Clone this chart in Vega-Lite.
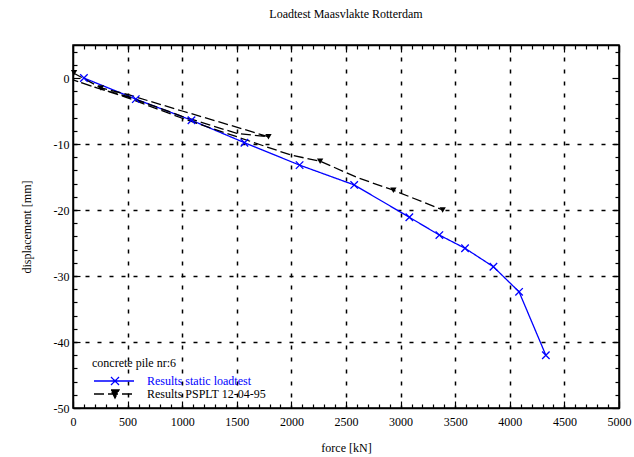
{
  "$schema": "https://vega.github.io/schema/vega-lite/v6.json",
  "width": 546,
  "height": 363,
  "autosize": "none",
  "padding": {"left": 73, "top": 45, "right": 15, "bottom": 49},
  "background": "white",
  "config": {
    "font": "Liberation Serif",
    "view": {"stroke": "black", "strokeWidth": 1.5}
  },
  "title": {
    "text": "Loadtest Maasvlakte Rotterdam",
    "font": "Liberation Serif",
    "fontSize": 12,
    "fontWeight": "normal",
    "color": "black",
    "anchor": "middle",
    "offset": 23
  },
  "datasets": {
    "curves": [
      {"series": "Results static loadtest", "step": 1, "force": 100, "disp": 0},
      {"series": "Results static loadtest", "step": 2, "force": 575, "disp": -3.2},
      {"series": "Results static loadtest", "step": 3, "force": 1085, "disp": -6.4},
      {"series": "Results static loadtest", "step": 4, "force": 1570, "disp": -9.8},
      {"series": "Results static loadtest", "step": 5, "force": 2075, "disp": -13.2},
      {"series": "Results static loadtest", "step": 6, "force": 2575, "disp": -16.2},
      {"series": "Results static loadtest", "step": 7, "force": 3080, "disp": -21.1},
      {"series": "Results static loadtest", "step": 8, "force": 3355, "disp": -23.8},
      {"series": "Results static loadtest", "step": 9, "force": 3590, "disp": -25.8},
      {"series": "Results static loadtest", "step": 10, "force": 3850, "disp": -28.6},
      {"series": "Results static loadtest", "step": 11, "force": 4085, "disp": -32.4},
      {"series": "Results static loadtest", "step": 12, "force": 4330, "disp": -42.0},
      {"series": "Results PSPLT 12-04-95", "step": 1, "force": 0, "disp": 0.8},
      {"series": "Results PSPLT 12-04-95", "step": 2, "force": 256, "disp": -1.5},
      {"series": "Results PSPLT 12-04-95", "step": 3, "force": 500, "disp": -2.5},
      {"series": "Results PSPLT 12-04-95", "step": 4, "force": 1000, "disp": -5.0},
      {"series": "Results PSPLT 12-04-95", "step": 5, "force": 1430, "disp": -7.1},
      {"series": "Results PSPLT 12-04-95", "step": 6, "force": 1790, "disp": -8.9},
      {"series": "Results PSPLT 12-04-95", "step": 7, "force": 1500, "disp": -8.4},
      {"series": "Results PSPLT 12-04-95", "step": 8, "force": 1000, "disp": -5.8},
      {"series": "Results PSPLT 12-04-95", "step": 9, "force": 500, "disp": -2.8},
      {"series": "Results PSPLT 12-04-95", "step": 10, "force": 256, "disp": -1.7},
      {"series": "Results PSPLT 12-04-95", "step": 11, "force": 0, "disp": -0.3},
      {"series": "Results PSPLT 12-04-95", "step": 12, "force": 500, "disp": -3.0},
      {"series": "Results PSPLT 12-04-95", "step": 13, "force": 1000, "disp": -6.1},
      {"series": "Results PSPLT 12-04-95", "step": 14, "force": 1500, "disp": -8.9},
      {"series": "Results PSPLT 12-04-95", "step": 15, "force": 2000, "disp": -11.7},
      {"series": "Results PSPLT 12-04-95", "step": 16, "force": 2263, "disp": -12.6},
      {"series": "Results PSPLT 12-04-95", "step": 17, "force": 2605, "disp": -15.1},
      {"series": "Results PSPLT 12-04-95", "step": 18, "force": 2934, "disp": -17.0},
      {"series": "Results PSPLT 12-04-95", "step": 19, "force": 3385, "disp": -20.0}
    ],
    "static_points": [
      {"force": 100, "disp": 0},
      {"force": 575, "disp": -3.2},
      {"force": 1085, "disp": -6.4},
      {"force": 1570, "disp": -9.8},
      {"force": 2075, "disp": -13.2},
      {"force": 2575, "disp": -16.2},
      {"force": 3080, "disp": -21.1},
      {"force": 3355, "disp": -23.8},
      {"force": 3590, "disp": -25.8},
      {"force": 3850, "disp": -28.6},
      {"force": 4085, "disp": -32.4},
      {"force": 4330, "disp": -42.0}
    ],
    "psplt_points": [
      {"force": 10, "disp": 0.8},
      {"force": 256, "disp": -1.5},
      {"force": 1790, "disp": -8.9},
      {"force": 2263, "disp": -12.6},
      {"force": 2934, "disp": -17.0},
      {"force": 3385, "disp": -20.0}
    ]
  },
  "layer": [
    {
      "mark": {"type": "rule", "color": "black", "strokeWidth": 1.5},
      "encoding": {
        "y": {"datum": 0, "type": "quantitative", "scale": {"domain": [-50, 5], "nice": false, "zero": false}, "axis": null}
      }
    },
    {
      "data": {"name": "curves"},
      "mark": {"type": "line", "strokeWidth": 1.3},
      "encoding": {
        "x": {
          "field": "force", "type": "quantitative",
          "scale": {"domain": [0, 5000], "nice": false, "zero": false},
          "axis": {
            "orient": "bottom",
            "values": [0,100,200,300,400,500,600,700,800,900,1000,1100,1200,1300,1400,1500,1600,1700,1800,1900,2000,2100,2200,2300,2400,2500,2600,2700,2800,2900,3000,3100,3200,3300,3400,3500,3600,3700,3800,3900,4000,4100,4200,4300,4400,4500,4600,4700,4800,4900,5000],
            "labelExpr": "datum.value % 500 === 0 ? '' + datum.value : ''",
            "labelOverlap": false,
            "labelFlush": false,
            "labelFontSize": 12,
            "labelColor": "black",
            "labelPadding": 15,
            "tickSize": {"condition": {"test": "datum.value % 500 === 0", "value": -7}, "value": -4},
            "tickColor": "black",
            "tickWidth": 1.2,
            "domainColor": "black",
            "domainWidth": 1.5,
            "grid": true,
            "gridColor": "black",
            "gridDash": [4, 8],
            "gridWidth": 1.5,
            "gridOpacity": {"condition": {"test": "datum.value % 500 === 0 && datum.value > 0 && datum.value < 5000", "value": 1}, "value": 0},
            "title": "force [kN]",
            "titleFontSize": 12,
            "titleFontWeight": "normal",
            "titleColor": "black",
            "titlePadding": 12
          }
        },
        "y": {
          "field": "disp", "type": "quantitative",
          "scale": {"domain": [-50, 5], "nice": false, "zero": false},
          "axis": {
            "orient": "left",
            "values": [-50,-48,-46,-44,-42,-40,-38,-36,-34,-32,-30,-28,-26,-24,-22,-20,-18,-16,-14,-12,-10,-8,-6,-4,-2,0,2,4],
            "labelExpr": "datum.value % 10 === 0 ? '' + datum.value : ''",
            "labelOverlap": false,
            "labelFlush": false,
            "labelFontSize": 12,
            "labelColor": "black",
            "labelPadding": 11,
            "tickSize": {"condition": {"test": "datum.value % 10 === 0", "value": -7}, "value": -4},
            "tickColor": "black",
            "tickWidth": 1.2,
            "domainColor": "black",
            "domainWidth": 1.5,
            "grid": true,
            "gridColor": "black",
            "gridDash": [4, 8],
            "gridWidth": 1.5,
            "gridOpacity": {"condition": {"test": "datum.value % 10 === 0 && datum.value > -50 && datum.value !== 0", "value": 1}, "value": 0},
            "title": "displacement [mm]",
            "titleFontSize": 12,
            "titleFontWeight": "normal",
            "titleColor": "black",
            "titlePadding": 20
          }
        },
        "color": {
          "field": "series", "type": "nominal",
          "scale": {"domain": ["Results static loadtest", "Results PSPLT 12-04-95"], "range": ["#0000ff", "#000000"]},
          "legend": {
            "orient": "none",
            "legendX": 19,
            "legendY": 313,
            "padding": 0,
            "title": "concrete pile nr:6",
            "titleFont": "Liberation Serif",
            "titleFontSize": 12,
            "titleFontWeight": "normal",
            "titleColor": "black",
            "titlePadding": 5,
            "labelFont": "Liberation Serif",
            "labelFontSize": 12,
            "labelColor": "black",
            "labelOffset": 43,
            "symbolSize": 64,
            "symbolStrokeWidth": 1.3,
            "rowPadding": -3,
            "encode": {
              "symbols": {"update": {
                "shape": {"signal": "datum.value === 'Results static loadtest' ? 'M-1,0L9,0M3.25,-1L5.25,1M3.25,1L5.25,-1' : 'M-1,0L9,0M3.25,-1L5.25,-1L4.25,1Z'"},
                "fill": {"signal": "datum.value === 'Results static loadtest' ? 'transparent' : 'black'"}
              }},
              "labels": {"update": {
                "fill": {"signal": "datum.value === 'Results static loadtest' ? '#0000ff' : 'black'"}
              }}
            }
          }
        },
        "strokeDash": {
          "field": "series", "type": "nominal",
          "scale": {"domain": ["Results static loadtest", "Results PSPLT 12-04-95"], "range": [[1, 0], [10, 4]]},
          "legend": null
        },
        "order": {"field": "step", "type": "quantitative"}
      }
    },
    {
      "data": {"name": "static_points"},
      "mark": {"type": "point", "shape": "M-1,-1L1,1M-1,1L1,-1", "size": 56, "filled": false, "stroke": "#0000ff", "strokeWidth": 1.3, "opacity": 1},
      "encoding": {
        "x": {
          "field": "force", "type": "quantitative",
          "scale": {"domain": [0, 5000], "nice": false, "zero": false},
          "axis": {
            "orient": "top",
            "values": [0,100,200,300,400,500,600,700,800,900,1000,1100,1200,1300,1400,1500,1600,1700,1800,1900,2000,2100,2200,2300,2400,2500,2600,2700,2800,2900,3000,3100,3200,3300,3400,3500,3600,3700,3800,3900,4000,4100,4200,4300,4400,4500,4600,4700,4800,4900,5000],
            "labels": false,
            "tickSize": {"condition": {"test": "datum.value % 500 === 0", "value": -7}, "value": -4},
            "tickColor": "black",
            "tickWidth": 1.2,
            "domainColor": "black",
            "domainWidth": 1.5,
            "grid": false,
            "title": null
          }
        },
        "y": {
          "field": "disp", "type": "quantitative",
          "scale": {"domain": [-50, 5], "nice": false, "zero": false},
          "axis": {
            "orient": "right",
            "values": [-50,-48,-46,-44,-42,-40,-38,-36,-34,-32,-30,-28,-26,-24,-22,-20,-18,-16,-14,-12,-10,-8,-6,-4,-2,0,2,4],
            "labels": false,
            "tickSize": {"condition": {"test": "datum.value % 10 === 0", "value": -7}, "value": -4},
            "tickColor": "black",
            "tickWidth": 1.2,
            "domainColor": "black",
            "domainWidth": 1.5,
            "grid": false,
            "title": null
          }
        }
      }
    },
    {
      "data": {"name": "psplt_points"},
      "mark": {"type": "point", "shape": "triangle-down", "size": 40, "filled": true, "color": "black", "opacity": 1},
      "encoding": {
        "x": {"field": "force", "type": "quantitative", "scale": {"domain": [0, 5000], "nice": false, "zero": false}, "axis": null},
        "y": {"field": "disp", "type": "quantitative", "scale": {"domain": [-50, 5], "nice": false, "zero": false}, "axis": null}
      }
    }
  ],
  "resolve": {"axis": {"x": "independent", "y": "independent"}}
}
